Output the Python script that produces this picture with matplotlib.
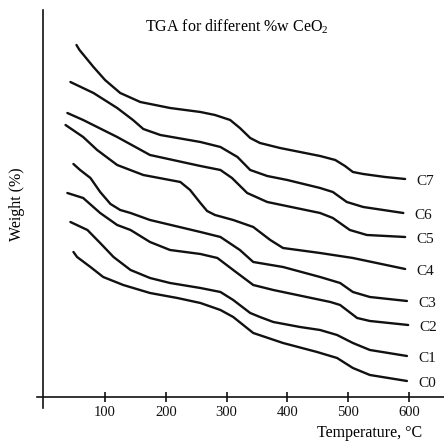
import matplotlib
matplotlib.use("Agg")
import matplotlib.pyplot as plt

plt.rcParams['font.family'] = ['Liberation Serif', 'DejaVu Serif']
plt.rcParams['mathtext.default'] = 'regular'

# TGA curves: temperature (C) and weight (arbitrary offset units)
labels = ["C7", "C6", "C5", "C4", "C3", "C2", "C1", "C0"]

t_c7 = [53, 58, 81, 100, 125, 158, 207, 257, 281, 306, 322, 339, 355, 388, 421, 454, 479, 495, 508, 525, 561, 594]
w_c7 = [352, 347, 330, 317, 304, 295, 289, 285, 282, 277, 269, 259, 254, 249, 245, 241, 237, 231, 225, 223, 220, 218]

t_c6 = [43, 81, 120, 146, 163, 191, 257, 290, 318, 339, 367, 400, 454, 475, 498, 525, 591]
w_c6 = [315, 304, 289, 277, 268, 262, 255, 250, 240, 227, 221, 217, 209, 205, 195, 190, 184]

t_c5 = [38, 64, 120, 174, 257, 290, 309, 334, 367, 454, 475, 503, 531, 594]
w_c5 = [284, 277, 260, 242, 231, 227, 219, 204, 195, 184, 179, 167, 162, 160]

t_c4 = [35, 64, 87, 120, 163, 224, 240, 257, 268, 281, 311, 344, 372, 393, 454, 508, 594]
w_c4 = [272, 260, 247, 232, 222, 215, 207, 194, 186, 182, 177, 170, 157, 149, 144, 139, 128]

t_c3 = [48, 59, 76, 92, 109, 125, 142, 174, 257, 290, 322, 344, 393, 454, 487, 508, 536, 597]
w_c3 = [233, 227, 219, 205, 193, 187, 184, 177, 165, 160, 147, 135, 130, 120, 114, 105, 100, 96]

t_c2 = [38, 64, 92, 120, 142, 174, 207, 257, 285, 311, 344, 377, 471, 487, 515, 536, 599]
w_c2 = [204, 199, 184, 172, 167, 155, 147, 143, 139, 127, 112, 107, 95, 92, 79, 76, 72]

t_c1 = [43, 71, 92, 114, 142, 174, 207, 257, 290, 311, 339, 355, 377, 421, 454, 482, 508, 536, 597]
w_c1 = [175, 167, 154, 140, 127, 119, 114, 109, 105, 97, 84, 80, 75, 70, 67, 62, 54, 47, 41]

t_c0 = [48, 54, 76, 97, 130, 174, 219, 257, 290, 311, 344, 393, 449, 482, 508, 536, 597]
w_c0 = [145, 140, 130, 120, 112, 104, 99, 94, 87, 80, 64, 54, 45, 39, 29, 22, 16]

temps = [t_c7, t_c6, t_c5, t_c4, t_c3, t_c2, t_c1, t_c0]
weights = [w_c7, w_c6, w_c5, w_c4, w_c3, w_c2, w_c1, w_c0]
xticks = [100, 200, 300, 400, 500, 600]

fig = plt.figure(figsize=(4.44, 4.44), dpi=100)
ax = fig.add_axes([0.0833, 0.0811, 0.9167, 0.8964])

for t, w, lab in zip(temps, weights, labels):
    ax.plot(t, w, color="#111111", lw=1.7, solid_joinstyle="round", solid_capstyle="round")
    ax.annotate(lab, xy=(t[-1], w[-1]), xytext=(8, -2), textcoords="offset points",
                ha="left", va="center", fontsize=11, color="#111111")

ax.set_xlim(-12, 658)
ax.set_ylim(-11, 387)
ax.spines["top"].set_visible(False)
ax.spines["right"].set_visible(False)
ax.spines["bottom"].set_position(("data", 0))
ax.spines["left"].set_position(("data", -2))
for s in ("bottom", "left"):
    ax.spines[s].set_linewidth(1.2)
    ax.spines[s].set_color("#111111")

ax.set_xticks(xticks)
ax.set_yticks([])
ax.tick_params(axis="x", direction="inout", length=7, width=1.2, pad=3, labelsize=10.5, colors="#111111")

fig.text(0.534, 0.939, "TGA for different %w CeO$_2$", ha="center", va="center", fontsize=11.5)
fig.text(0.833, 0.025, "Temperature, °C", ha="center", va="center", fontsize=11.5)
fig.text(0.038, 0.54, "Weight (%)", ha="center", va="center", rotation=90, fontsize=11.5)

fig.savefig("out.png", dpi=100)
